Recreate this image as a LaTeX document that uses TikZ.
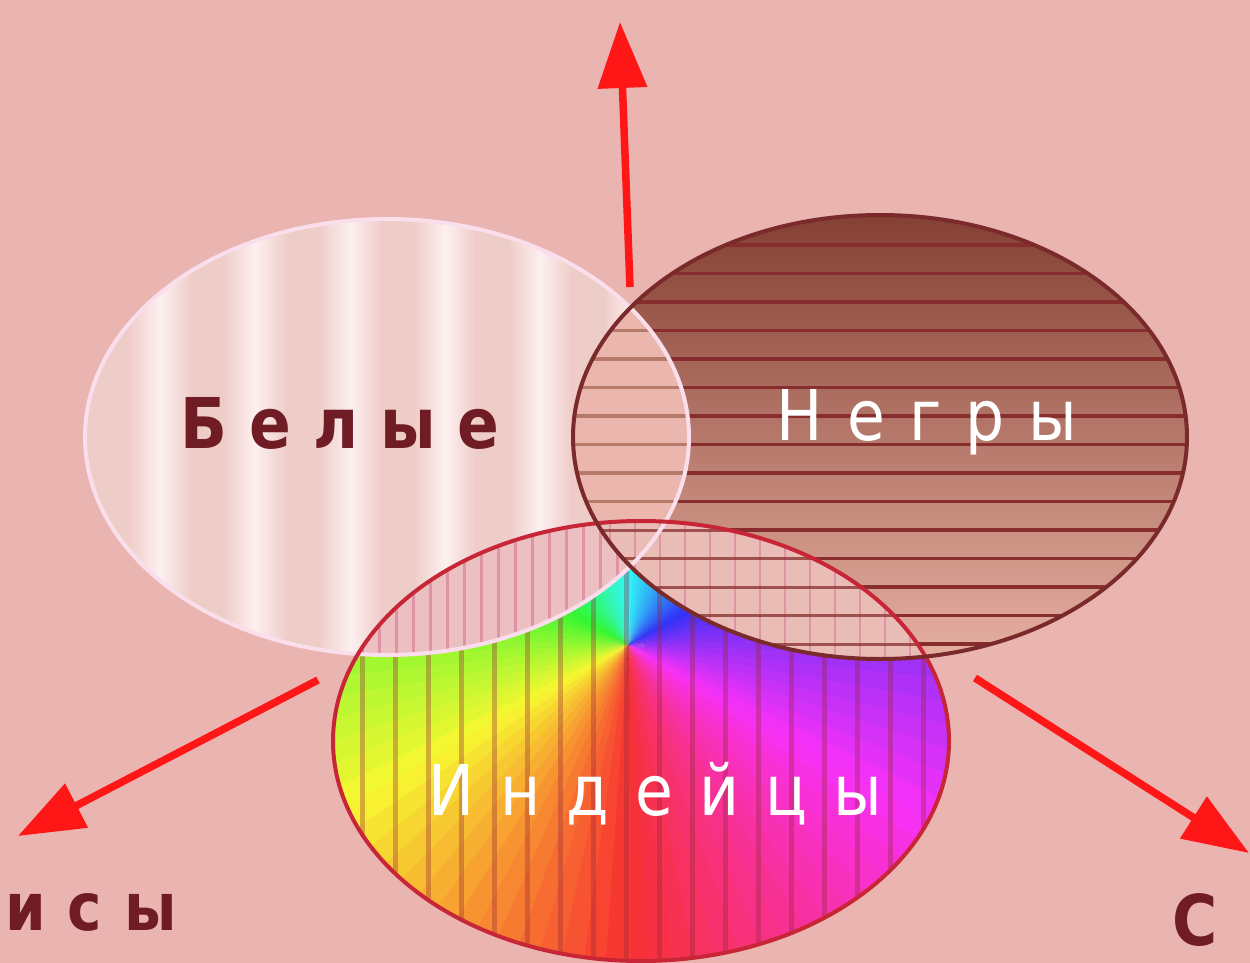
\documentclass[tikz,border=0pt]{standalone}
\usepackage{fontspec}
\usetikzlibrary{arrows.meta}
\newfontfamily\dvs[FakeStretch=0.88]{DejaVu Sans}
\definecolor{bgc}{RGB}{234,180,176}
\definecolor{wbase}{RGB}{238,204,200}
\definecolor{wlight}{RGB}{253,240,240}
\definecolor{wborder}{RGB}{250,222,236}
\definecolor{ntop}{RGB}{132,64,50}
\definecolor{nmid}{RGB}{168,94,76}
\definecolor{nbot}{RGB}{230,176,162}
\definecolor{nline}{RGB}{135,45,45}
\definecolor{nborder}{RGB}{122,42,42}
\definecolor{iborder}{RGB}{200,38,55}
\definecolor{istripe}{RGB}{150,40,55}
\definecolor{pinkA}{RGB}{234,182,174}
\definecolor{pinkB}{RGB}{236,192,192}
\definecolor{pinkC}{RGB}{234,188,182}
\definecolor{brownL}{RGB}{182,122,104}
\definecolor{pinkL}{RGB}{222,148,165}
\definecolor{arrowred}{RGB}{255,22,22}
\definecolor{darktxt}{RGB}{112,28,36}
\tikzset{
  Wshape/.style={insert path={(387,-437) ellipse [x radius=302pt, y radius=218pt]}},
  Nshape/.style={insert path={(880,-437) ellipse [x radius=307pt, y radius=222pt]}},
  Ishape/.style={insert path={(641,-741) ellipse [x radius=308pt, y radius=220pt]}},
  arrowline/.style={draw=arrowred, line width=7.5pt, -{Triangle[length=66pt,width=48pt]}},
  bigtext/.style={inner sep=0pt, font=\dvs\fontsize{70}{80}\selectfont},
}
\begin{document}
\begin{tikzpicture}[x=1pt,y=1pt]
\useasboundingbox (0,-963) rectangle (1250,0);
\fill[bgc] (0,-963) rectangle (1250,0);

% ---- white ellipse
\begin{scope}
\clip[Wshape];
\fill[wbase] (80,-210) rectangle (700,-660);
\foreach \x in {160,255,350,445,540,635}{
  \shade[left color=wbase, right color=wbase, middle color=wlight] (\x-32,-210) rectangle (\x+32,-660);
}
\end{scope}

% ---- negro ellipse
\begin{scope}
\clip[Nshape];
\shade[top color=ntop, middle color=nmid, bottom color=nbot] (570,-212) rectangle (1190,-662);
\foreach \k in {0,...,15}{
  \draw[nline, line width=3.2pt] (570,-245-28.5*\k) -- (1195,-245-28.5*\k);
}
\end{scope}

% ---- indian ellipse (rainbow)
\begin{scope}
\clip[Ishape];
\foreach \t in {-90,-86,...,266}{
  \pgfmathsetmacro\hh{270-\t-2}
  \definecolor{wc}{Hsb}{\hh,0.80,0.97}
  \fill[wc, shift={(628,-645)}] (0,0) -- (\t:800) -- ({\t+4.6}:800) -- cycle;
}
\foreach \k in {0,...,18}{
  \draw[istripe, opacity=0.35, line width=5pt] (329+33*\k,-515) -- (329+33*\k,-965);
}
\end{scope}

% ---- intersections
\begin{scope}
\clip[Wshape]; \clip[Nshape];
\fill[pinkA] (560,-200) rectangle (700,-700);
\foreach \k in {0,...,15}{
  \draw[brownL, line width=3.5pt] (560,-245-28.5*\k) -- (700,-245-28.5*\k);
}
\end{scope}
\begin{scope}
\clip[Wshape]; \clip[Ishape];
\fill[pinkB] (330,-500) rectangle (700,-700);
\foreach \k in {0,...,22}{
  \draw[pinkL, line width=3pt] (345+17*\k,-500) -- (345+17*\k,-700);
}
\end{scope}
\begin{scope}
\clip[Nshape]; \clip[Ishape];
\fill[pinkC] (560,-500) rectangle (960,-700);
\foreach \k in {0,...,15}{
  \draw[pinkL, line width=2.5pt] (585+25*\k,-500) -- (585+25*\k,-700);
}
\foreach \k in {9,...,15}{
  \draw[nline, opacity=0.75, line width=3pt] (560,-245-28.5*\k) -- (960,-245-28.5*\k);
}
\end{scope}

% ---- borders
\draw[wborder, line width=4pt][Wshape];
\draw[iborder, line width=4pt][Ishape];
\draw[nborder, line width=4pt][Nshape];

% ---- arrows
\coordinate (upS) at (630,-287);
\coordinate (upE) at (620,-22);
\coordinate (dlS) at (318,-680);
\coordinate (dlE) at (18,-836);
\coordinate (drS) at (975,-678);
\coordinate (drE) at (1249,-853);
\draw[arrowline] (upS) -- (upE);
\draw[arrowline] (dlS) -- (dlE);
\draw[arrowline] (drS) -- (drE);

% ---- labels
\node[bigtext, text=darktxt, anchor=base, font=\dvs\bfseries\fontsize{70}{80}\selectfont] (belye) at (340,-448)
  {Б\kern22pt е\kern22pt л\kern22pt ы\kern22pt е};
\node[bigtext, text=white, anchor=base] (negry) at (927,-440)
  {Н\kern24pt е\kern24pt г\kern24pt р\kern24pt ы};
\node[bigtext, text=white, anchor=base] (indeytsy) at (655,-815)
  {И\kern26pt н\kern26pt д\kern26pt е\kern26pt й\kern26pt ц\kern26pt ы};
\node[bigtext, text=darktxt, anchor=base west, font=\dvs\bfseries\fontsize{66}{76}\selectfont] (metisy) at (5,-930)
  {и\kern22pt с\kern22pt ы};
\node[bigtext, text=darktxt, anchor=base west, font=\dvs\bfseries\fontsize{70}{80}\selectfont] (sambo) at (1172,-945)
  {С};
\end{tikzpicture}
\end{document}
